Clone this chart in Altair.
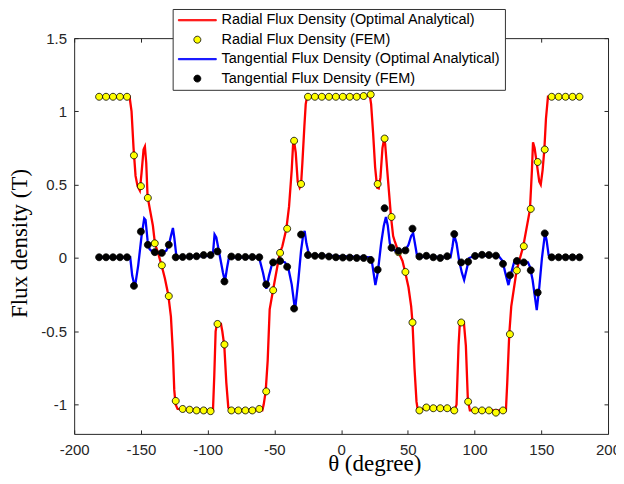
import altair as alt
import pandas as pd

# ---------------- data ----------------
fem_theta = [-181.3, -176.1, -170.9, -165.7, -160.4, -155.2, -150.0, -144.8, -139.6, -134.3,
             -129.1, -123.9, -118.7, -113.5, -108.3, -103.0, -97.8, -92.6, -87.4, -82.2,
             -77.0, -71.7, -66.5, -61.3, -56.1, -50.9, -45.7, -40.4, -35.2, -30.0,
             -24.8, -19.6, -14.4, -9.1, -3.9, 1.3, 6.5, 11.7, 16.9, 22.2,
             27.4, 32.6, 37.8, 43.0, 48.2, 53.5, 58.7, 63.9, 69.1, 74.3,
             79.5, 84.8, 90.0, 95.2, 100.4, 105.6, 110.8, 116.0, 121.3, 126.5,
             131.7, 136.9, 142.1, 147.3, 152.6, 157.8, 163.0, 168.2, 173.4, 178.6]

fem_radial = [1.10, 1.10, 1.10, 1.10, 1.10, 0.70, 0.49, 0.41, 0.10, -0.05,
              -0.26, -0.975, -1.03, -1.035, -1.04, -1.04, -1.045, -0.45, -0.59, -1.04,
              -1.04, -1.04, -1.04, -1.03, -0.91, -0.22, 0.035, 0.20, 0.80, 0.505,
              1.10, 1.10, 1.10, 1.10, 1.10, 1.10, 1.10, 1.10, 1.105, 1.115,
              0.505, 0.815, 0.28, 0.04, -0.095, -0.44, -1.04, -1.02, -1.025, -1.025,
              -1.025, -1.04, -0.44, -0.98, -1.04, -1.04, -1.04, -1.055, -1.04, -0.52,
              -0.085, 0.08, 0.335, 0.655, 0.74, 1.10, 1.10, 1.10, 1.10, 1.10]

fem_tangential = [0.005, 0.005, 0.005, 0.005, 0.005, -0.19, 0.18, 0.09, 0.04, 0.035,
                  0.09, 0.005, 0.007, 0.01, 0.012, 0.02, 0.02, 0.045, -0.16, 0.01,
                  0.007, 0.007, 0.007, 0.005, -0.18, -0.03, -0.02, -0.06, -0.345, 0.16,
                  0.02, 0.015, 0.015, 0.01, 0.005, 0.003, 0.003, 0.0, 0.0, -0.014,
                  -0.08, 0.34, 0.07, 0.048, 0.052, 0.20, 0.01, 0.015, 0.005, 0.0,
                  0.012, 0.163, -0.03, -0.025, 0.014, 0.022, 0.02, 0.016, -0.04, -0.118,
                  -0.02, -0.03, -0.084, -0.236, 0.168, 0.005, 0.005, 0.005, 0.005, 0.005]

ana_radial_theta = [-180, -158.5, -157, -155.5, -154, -152.5, -150.8, -149.5, -148, -147,
                    -146, -145, -143, -141, -139.5, -137, -134.5, -132, -129.5, -127.5,
                    -126, -125, -124, -122.5, -98, -96, -95, -94, -93, -90,
                    -89, -87.5, -86, -84.5, -83, -59, -58, -56.5, -55, -53.5,
                    -51, -48, -46, -44, -41, -39, -37, -36, -35.3, -34,
                    -32.5, -31, -30, -29, -27.5, -26.5, -25.5, 21.5, 22.5, 24,
                    25.5, 27, 28.2, 29.5, 31, 32.2, 33, 35, 37.4, 39,
                    40, 43, 46, 48, 50.5, 52.5, 53.5, 55, 56.5, 57.5,
                    61, 63.5, 80, 85, 86.5, 88, 89, 92, 93.5, 95,
                    96.5, 121, 123.5, 124.5, 126, 127.5, 131.5, 136.5, 141.5, 143,
                    143.8, 145, 147, 148.5, 149.6, 151, 152.3, 153.5, 155, 180]

ana_radial = [1.10, 1.10, 1.0, 0.75, 0.56, 0.49, 0.46, 0.58, 0.74, 0.76,
              0.65, 0.42, 0.32, 0.22, 0.10, 0.03, -0.05, -0.14, -0.25, -0.40,
              -0.65, -0.90, -1.0, -1.03, -1.04, -1.04, -0.8, -0.50, -0.45, -0.45,
              -0.5, -0.6, -0.85, -1.02, -1.04, -1.04, -1.0, -0.91, -0.7, -0.35,
              -0.22, -0.07, 0.03, 0.08, 0.2, 0.35, 0.60, 0.77, 0.80, 0.72,
              0.52, 0.48, 0.5, 0.65, 0.9, 1.05, 1.10, 1.11, 1.05, 0.85,
              0.62, 0.48, 0.475, 0.55, 0.75, 0.81, 0.78, 0.55, 0.28, 0.15,
              0.12, 0.04, -0.02, -0.095, -0.2, -0.33, -0.44, -0.75, -0.98, -1.04,
              -1.03, -1.02, -1.025, -1.04, -1.0, -0.6, -0.44, -0.44, -0.6, -0.97,
              -1.04, -1.04, -1.04, -0.85, -0.52, -0.33, -0.085, 0.08, 0.33, 0.6,
              0.79, 0.75, 0.62, 0.52, 0.50, 0.6, 0.74, 0.95, 1.10, 1.10]

ana_tan_theta = [-180, -158, -156.5, -154.5, -152, -149.5, -147.5, -146.5, -145, -143.5,
                 -141, -138, -134, -131, -129, -127.5, -126, -125, -123.5, -122.5,
                 -99, -96, -94.8, -93.5, -91, -88.5, -87, -85.5, -84, -61.5,
                 -58.5, -56, -54, -52, -49, -45, -42, -39.5, -37, -34.5,
                 -32, -30, -28.5, -27.3, -26, -24, 22.5, 23.5, 25.7, 27.5,
                 30, 32, 33.6, 35, 36.5, 38, 42, 48, 50.5, 52.5,
                 54, 55.5, 57, 82, 83.5, 84.7, 86.5, 88.5, 90.5, 92.2,
                 94, 96, 100, 118, 121, 123, 125.4, 127.5, 129.6, 135,
                 140, 141.5, 143.5, 146.6, 148.5, 150.5, 152.8, 154, 155.5, 156.5, 180]

ana_tan = [0.005, 0.005, -0.12, -0.20, -0.05, 0.15, 0.27, 0.26, 0.12, 0.06,
           0.04, 0.035, 0.035, 0.05, 0.09, 0.15, 0.205, 0.14, 0.02, 0.005,
           0.015, 0.03, 0.16, 0.14, 0.02, -0.10, -0.16, -0.07, 0.005, 0.005,
           -0.10, -0.21, -0.12, -0.05, -0.03, -0.02, -0.03, -0.07, -0.18, -0.355,
           -0.15, 0.05, 0.15, 0.185, 0.10, 0.02, 0.005, -0.05, -0.185, -0.10,
           0.10, 0.22, 0.28, 0.22, 0.10, 0.06, 0.045, 0.05, 0.09, 0.15,
           0.168, 0.09, 0.01, 0.005, 0.08, 0.157, 0.10, -0.02, -0.10, -0.15,
           -0.08, 0.0, 0.015, 0.015, -0.02, -0.10, -0.185, -0.10, -0.03, -0.03,
           -0.03, -0.06, -0.15, -0.355, -0.20, 0.0, 0.17, 0.12, 0.02, 0.005, 0.005]

x_ticks = [-200, -150, -100, -50, 0, 50, 100, 150, 200]
y_ticks = [-1, -0.5, 0, 0.5, 1, 1.5]

S_RA = "Radial Flux Density (Optimal Analytical)"
S_RF = "Radial Flux Density (FEM)"
S_TA = "Tangential Flux Density (Optimal Analytical)"
S_TF = "Tangential Flux Density (FEM)"
series_order = [S_RA, S_RF, S_TA, S_TF]

df_ra = pd.DataFrame({"theta": ana_radial_theta, "B": ana_radial, "series": S_RA})
df_rf = pd.DataFrame({"theta": fem_theta, "B": fem_radial, "series": S_RF})
df_ta = pd.DataFrame({"theta": ana_tan_theta, "B": ana_tan, "series": S_TA})
df_tf = pd.DataFrame({"theta": fem_theta, "B": fem_tangential, "series": S_TF})

# ---------------- styling ----------------
BAR = "M-3.8,-0.13H3.8V0.13H-3.8Z"
DOT = "M0.7,0A0.7,0.7,0,1,1,-0.7,0A0.7,0.7,0,1,1,0.7,0Z"
AX = "#262626"
SANS = "Liberation Sans"
SERIF = "Liberation Serif"

stroke_scale = alt.Scale(domain=series_order, range=["#ff0000", "#000000", "#0000ff", "#000000"])
fill_scale = alt.Scale(domain=series_order, range=["#ff0000", "#ffff00", "#0000ff", "#000000"])
shape_scale = alt.Scale(domain=series_order, range=[BAR, DOT, BAR, DOT])
xscale = alt.Scale(domain=[-200, 200], nice=False, zero=False)
yscale = alt.Scale(domain=[-1.2, 1.5], nice=False, zero=False)

x_bottom = alt.Axis(orient="bottom", values=x_ticks, labelExpr="toString(datum.value)",
                    domain=False, grid=False, tickSize=4, offset=-4, tickColor=AX,
                    labelFlush=False, labelOverlap=False,
                    labelPadding=9, labelFont=SANS, labelFontSize=15, labelColor=AX,
                    title="θ  (degree)", titleFont=SERIF, titleFontSize=23,
                    titleFontWeight="normal", titleColor="#000000",
                    titleX=300.7, titleY=40.7, titleBaseline="alphabetic", titleAlign="center")
y_left = alt.Axis(orient="left", values=y_ticks, labelExpr="toString(datum.value)",
                  domain=False, grid=False, tickSize=4, offset=-4, tickColor=AX,
                  labelFlush=False, labelOverlap=False,
                  labelPadding=7.6, labelFont=SANS, labelFontSize=15, labelColor=AX,
                  title="Flux density (T)", titleFont=SERIF, titleFontSize=23,
                  titleFontWeight="normal", titleColor="#000000",
                  titleX=-51.3, titleY=205.3, titleAngle=270,
                  titleBaseline="alphabetic", titleAlign="center")
x_top = alt.Axis(orient="top", values=x_ticks, labels=False, domain=False, grid=False,
                 tickSize=4, offset=-4, tickColor=AX, title=None)
y_right = alt.Axis(orient="right", values=y_ticks, labels=False, domain=False, grid=False,
                   tickSize=4, offset=-4, tickColor=AX, title=None)

legend = alt.Legend(title=None, orient="none", legendX=98.7, legendY=-29.2,
                    padding=4, rowPadding=4.5, labelFont=SANS, labelFontSize=14.5,
                    labelColor="#000000", labelLimit=600, symbolSize=100,
                    symbolStrokeWidth=0.8, symbolOffset=13.5, labelOffset=17,
                    strokeColor="#333333", fillColor="#ffffff")

line_ra = alt.Chart(df_ra).mark_line(strokeWidth=2.3).encode(
    x=alt.X("theta:Q", scale=xscale, axis=x_bottom),
    y=alt.Y("B:Q", scale=yscale, axis=y_left),
    stroke=alt.value("#ff0000"),
)

pts_rf = alt.Chart(df_rf).mark_point(filled=True, opacity=1, size=100, strokeWidth=0.8).encode(
    x=alt.X("theta:Q", scale=xscale, axis=x_top),
    y=alt.Y("B:Q", scale=yscale, axis=y_right),
    fill=alt.Fill("series:N", scale=fill_scale, legend=legend),
    stroke=alt.Stroke("series:N", scale=stroke_scale, legend=legend),
    shape=alt.Shape("series:N", scale=shape_scale, legend=legend),
)

line_ta = alt.Chart(df_ta).mark_line(strokeWidth=2.3).encode(
    x=alt.X("theta:Q", scale=xscale, axis=None),
    y=alt.Y("B:Q", scale=yscale, axis=None),
    stroke=alt.value("#0000ff"),
)

pts_tf = alt.Chart(df_tf).mark_point(filled=True, opacity=1, size=100, strokeWidth=0.8).encode(
    x=alt.X("theta:Q", scale=xscale, axis=None),
    y=alt.Y("B:Q", scale=yscale, axis=None),
    fill=alt.Fill("series:N", scale=fill_scale, legend=legend),
    stroke=alt.Stroke("series:N", scale=stroke_scale, legend=legend),
    shape=alt.Shape("series:N", scale=shape_scale, legend=legend),
)

chart = alt.layer(line_ra, pts_rf, line_ta, pts_tf).resolve_axis(
    x="independent", y="independent"
).properties(
    width=535, height=396.6,
    autosize=alt.AutoSizeParams(type="none"),
    padding={"left": 66.3, "top": 29.7, "right": 8, "bottom": 41.7},
    background="#ffffff",
).configure_view(stroke=AX, strokeWidth=1)

chart.save("out.html", embed_options={"renderer": "svg", "actions": False})
